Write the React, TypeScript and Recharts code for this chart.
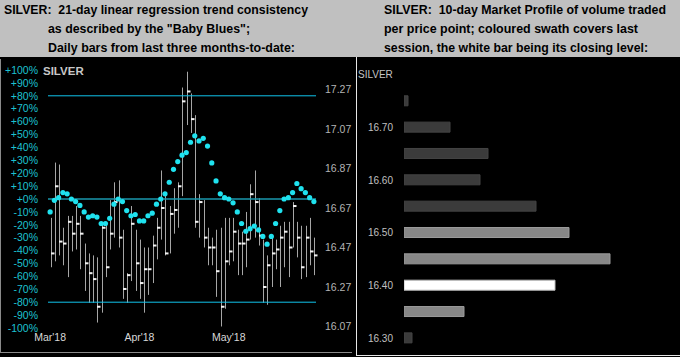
import React from 'react';
import { ComposedChart, BarChart, Bar, Line, XAxis, YAxis, ReferenceLine, Cell } from 'recharts';

// ---- Left panel: daily bars (Mar'18 - May'18) ----
const monthLabels = ["Mar'18", "Apr'18", "May'18"];
const monthStarts = [0, 21, 42];

const highs = [
  16.62, 16.90, 16.89, 16.57, 16.63, 16.63, 16.68, 16.63, 16.49, 16.44,
  16.43, 16.42, 16.59, 16.60, 16.71, 16.80, 16.81, 16.56, 16.34, 16.68,
  16.56, 16.51, 16.47, 16.47, 16.53, 16.62, 16.86, 16.74, 16.68, 16.77,
  16.80, 17.28, 17.36, 17.25, 17.14, 16.74, 16.71, 16.57, 16.52, 16.56,
  16.57, 16.62, 16.62, 16.62, 16.56, 16.55, 16.65, 16.79, 16.86, 16.72,
  16.51, 16.43, 16.52, 16.51, 16.58, 16.60, 16.60, 16.70, 16.60, 16.58,
  16.58, 16.62, 16.52,
];
const lows = [
  16.37, 16.40, 16.43, 16.38, 16.32, 16.45, 16.46, 16.36, 16.25, 16.19,
  16.19, 16.09, 16.14, 16.32, 16.46, 16.52, 16.47, 16.21, 16.19, 16.30,
  16.25, 16.21, 16.14, 16.23, 16.29, 16.41, 16.51, 16.43, 16.44, 16.54,
  16.57, 16.73, 17.09, 17.05, 16.57, 16.52, 16.47, 16.38, 16.38, 16.22,
  16.07, 16.16, 16.38, 16.40, 16.33, 16.33, 16.37, 16.51, 16.52, 16.48,
  16.19, 16.18, 16.27, 16.36, 16.27, 16.37, 16.32, 16.47, 16.42, 16.31,
  16.32, 16.38, 16.33,
];
const closes = [
  16.44, 16.78, 16.50, 16.49, 16.60, 16.54, 16.59, 16.54, 16.39, 16.34,
  16.31, 16.17, 16.57, 16.37, 16.54, 16.70, 16.52, 16.26, 16.33, 16.59,
  16.39, 16.29, 16.36, 16.36, 16.48, 16.57, 16.67, 16.44, 16.64, 16.66,
  16.78, 17.21, 17.26, 17.12, 16.60, 16.70, 16.52, 16.47, 16.47, 16.35,
  16.17, 16.40, 16.45, 16.55, 16.49, 16.49, 16.51, 16.74, 16.70, 16.53,
  16.27, 16.38, 16.44, 16.46, 16.52, 16.55, 16.47, 16.68, 16.52, 16.37,
  16.52, 16.45, 16.43,
];
// "Baby Blues": 21-day linear regression trend consistency, in %
const babyBlues = [
  -10, -1, 1, 5, 4, 0, -2, -5, -10, -14,
  -13, -14, -19, -19, -15, -4, 0, -2, -9, -13,
  -12, -17, -17, -13, -11, -4, 0, 4, 13, 23,
  29, 34, 36, 44, 49, 45, 47, 41, 28, 14,
  4, 1, 0, -3, -10, -19, -25, -23, -21, -24,
  -29, -35, -29, -19, -9, 0, 1, 5, 12, 8,
  5, 1, -2,
];
const pctTicks = [100, 90, 80, 70, 60, 50, 40, 30, 20, 10, 0, -10, -20, -30, -40, -50, -60, -70, -80, -90, -100];
const priceTicks = [16.07, 16.27, 16.47, 16.67, 16.87, 17.07, 17.27];
const priceDomain = [16.0624, 17.3687];
const bandLevels = [80, 0, -80];

// ---- Right panel: 10-day market profile ----
const profilePrices = ['16.75', '16.70', '16.65', '16.60', '16.55', '16.50', '16.45', '16.40', '16.35', '16.30'];
const profileVolumes = [4, 46, 84, 76, 132, 165, 206, 151, 60, 8];
const profileLabels = ['16.70', '16.60', '16.50', '16.40', '16.30'];
const lastSessionPrices = ['16.50', '16.45', '16.40', '16.35'];
const lastClosePrice = '16.40';

const barData = highs.map((h, i) => ({
  idx: i,
  high: h,
  low: lows[i],
  close: closes[i],
  range: [lows[i], h],
  blue: babyBlues[i],
}));
const profileData = profilePrices.map((p, i) => ({ price: p, vol: profileVolumes[i] }));

const FONT = 'Liberation Sans, Arial, sans-serif';
const HEAD_FONT = 'Liberation Sans Narrow, Liberation Sans, Arial, sans-serif';

const PriceBar = (props: any) => {
  const { x, y, width, height, payload } = props;
  if (x == null || y == null || !payload) return null;
  const cx = Math.round(x + width / 2) + 0.5;
  const top = Math.min(y, y + height);
  const h = Math.abs(height);
  const r = payload.high - payload.low;
  const cy = r > 0 ? top + ((payload.high - payload.close) / r) * h : top;
  return (
    <g>
      <line x1={cx} x2={cx} y1={top} y2={top + h} stroke="#a6a6a6" strokeWidth={1} />
      <rect x={cx - 0.5} y={cy - 1} width={3.5} height={2} fill="#f2f2f2" />
    </g>
  );
};

const pctFmt = (v: number) => (v >= 0 ? `+${v}%` : `${v}%`);
const monthFmt = (v: number) => {
  const k = monthStarts.indexOf(v);
  return k >= 0 ? monthLabels[k] : '';
};

const headStyle: React.CSSProperties = { fontFamily: HEAD_FONT, fontWeight: 'bold', fontSize: 13, whiteSpace: 'pre' };

export default function App() {
  return (
    <div style={{ position: 'fixed', left: 0, top: 0, width: 680, height: 357, background: '#000', overflow: 'hidden' }}>
      <svg width={680} height={357} style={{ position: 'absolute', left: 0, top: 0 }}>
        <rect x={0} y={0} width={680} height={57} fill="#c0c0c0" />
        <g fill="#000">
          <text x={4} y={14} style={headStyle} xmlSpace="preserve" textLength={304} lengthAdjust="spacingAndGlyphs">{'SILVER:  21-day linear regression trend consistency'}</text>
          <text x={48} y={33} style={headStyle} textLength={202} lengthAdjust="spacingAndGlyphs">{'as described by the "Baby Blues";'}</text>
          <text x={48} y={52} style={headStyle} textLength={247} lengthAdjust="spacingAndGlyphs">{'Daily bars from last three months-to-date:'}</text>
          <text x={384} y={14} style={headStyle} xmlSpace="preserve" textLength={282} lengthAdjust="spacingAndGlyphs">{'SILVER:  10-day Market Profile of volume traded'}</text>
          <text x={384} y={33} style={headStyle} textLength={254} lengthAdjust="spacingAndGlyphs">{'per price point; coloured swath covers last'}</text>
          <text x={384} y={52} style={headStyle} textLength={264} lengthAdjust="spacingAndGlyphs">{'session, the white bar being its closing level:'}</text>
        </g>
        <line x1={0.5} y1={59} x2={0.5} y2={353} stroke="#8a8a8a" />
        <line x1={0} y1={352.5} x2={352} y2={352.5} stroke="#8a8a8a" />
        <line x1={356.5} y1={57} x2={356.5} y2={356} stroke="#e6e6e6" />
        <line x1={356} y1={355.5} x2={680} y2={355.5} stroke="#e6e6e6" />
        <text x={43} y={74.5} style={{ fontFamily: FONT, fontWeight: 'bold', fontSize: 11.5 }} fill="#c8c8c8">SILVER</text>
        <text x={358} y={78} style={{ fontFamily: FONT, fontSize: 10 }} fill="#c4c4c4">SILVER</text>
      </svg>

      <div style={{ position: 'absolute', left: 0, top: 0 }}>
        <ComposedChart width={354} height={357} data={barData} margin={{ top: 70, bottom: 9, left: 8, right: 0 }}>
          <XAxis
            dataKey="idx"
            type="category"
            interval={0}
            height={20}
            axisLine={false}
            tickLine={false}
            tickSize={0}
            tickMargin={6}
            tickFormatter={monthFmt}
            tick={{ fill: '#d8d8d8', fontSize: 10.5, fontFamily: FONT }}
          />
          <YAxis
            yAxisId="pct"
            orientation="left"
            width={40}
            domain={[-100, 100]}
            ticks={pctTicks}
            interval={0}
            allowDataOverflow
            axisLine={false}
            tickLine={false}
            tickSize={0}
            tickMargin={10}
            tickFormatter={pctFmt}
            tick={{ fill: '#1cc2d0', fontSize: 10.5, fontFamily: FONT }}
          />
          <YAxis
            yAxisId="price"
            orientation="right"
            width={38}
            domain={priceDomain}
            ticks={priceTicks}
            interval={0}
            allowDataOverflow
            axisLine={false}
            tickLine={false}
            tickSize={0}
            tickMargin={9}
            tickFormatter={(v: number) => v.toFixed(2)}
            tick={{ fill: '#b4b4b4', fontSize: 10.5, fontFamily: FONT, textAnchor: 'start' }}
          />
          {bandLevels.map((lv) => (
            <ReferenceLine
              key={lv}
              yAxisId="pct"
              y={lv}
              stroke={lv === 0 ? '#1a98ae' : '#10c4ec'}
              strokeWidth={lv === 0 ? 1.3 : 1}
            />
          ))}
          <Bar yAxisId="price" dataKey="range" shape={<PriceBar />} isAnimationActive={false} barSize={3} />
          <Line
            yAxisId="pct"
            dataKey="blue"
            stroke="none"
            strokeWidth={0}
            dot={{ r: 2.6, fill: '#1fe2ef', stroke: 'none' }}
            activeDot={false}
            isAnimationActive={false}
          />
        </ComposedChart>
      </div>

      <div style={{ position: 'absolute', left: 354, top: 0 }}>
        <BarChart
          width={326}
          height={357}
          layout="vertical"
          data={profileData}
          margin={{ top: 87.8, bottom: 5.8, left: 10, right: 6 }}
        >
          <XAxis type="number" hide domain={[0, 270]} allowDataOverflow />
          <YAxis
            type="category"
            dataKey="price"
            width={40}
            interval={0}
            axisLine={false}
            tickLine={false}
            tickSize={0}
            tickMargin={11}
            tickFormatter={(v: string) => (profileLabels.includes(v) ? v : '')}
            tick={{ fill: '#c0c0c0', fontSize: 10, fontFamily: FONT }}
          />
          <Bar dataKey="vol" barSize={10} isAnimationActive={false}>
            {profileData.map((d) => {
              const isClose = d.price === lastClosePrice;
              const inSession = lastSessionPrices.includes(d.price);
              return (
                <Cell
                  key={d.price}
                  fill={isClose ? '#ffffff' : inSession ? '#878787' : '#3b3b3b'}
                  stroke={isClose ? '#bdbdbd' : inSession ? '#9a9a9a' : '#444444'}
                  strokeWidth={1}
                />
              );
            })}
          </Bar>
        </BarChart>
      </div>
    </div>
  );
}
